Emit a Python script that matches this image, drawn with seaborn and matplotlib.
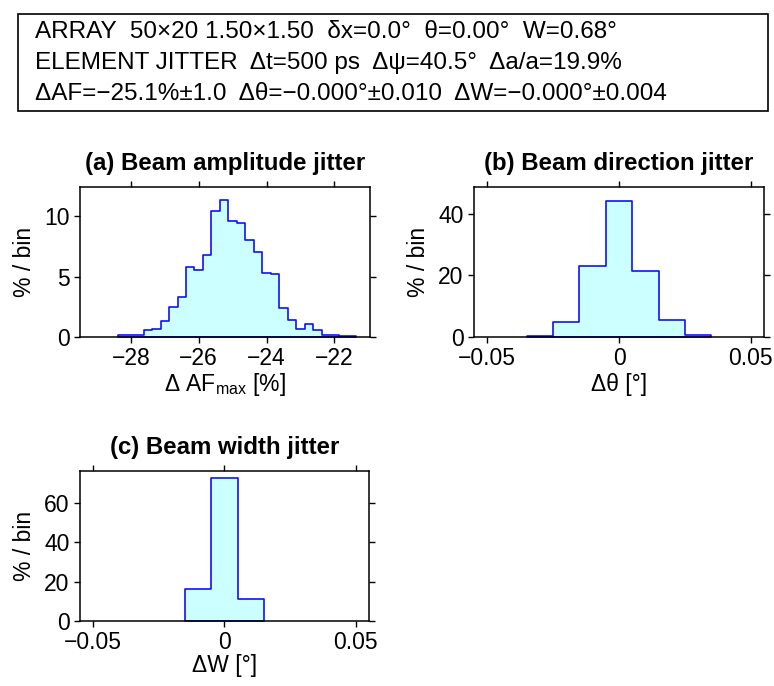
import numpy as np
import pandas as pd
import matplotlib
matplotlib.use("Agg")
import matplotlib.pyplot as plt
from matplotlib.patches import Rectangle
import seaborn as sns

# ---------------- data ----------------
amp_edges = [-28.375 + 0.25 * i for i in range(29)]
amp_pct = [0.2, 0.2, 0.2, 0.6, 0.7, 1.3, 2.5, 3.3, 5.8, 5.5, 6.8, 10.4, 11.3,
           9.6, 9.4, 8.0, 7.0, 5.3, 5.2, 2.4, 1.4, 0.7, 1.05, 0.6, 0.2, 0.15,
           0.1, 0.1]

dir_edges = [-0.035, -0.025, -0.015, -0.005, 0.005, 0.015, 0.025, 0.035]
dir_pct = [0.3, 4.7, 23.0, 44.2, 21.5, 5.5, 0.8]

wid_edges = [-0.015, -0.005, 0.005, 0.015]
wid_pct = [16.4, 72.6, 11.0]

header_lines = [
    "ARRAY  50×20 1.50×1.50  δx=0.0°  θ=0.00°  W=0.68°",
    "ELEMENT JITTER  Δt=500 ps  Δψ=40.5°  Δa/a=19.9%",
    "ΔAF=−25.1%±1.0  Δθ=−0.000°±0.010  ΔW=−0.000°±0.004",
]

titles = ["(a) Beam amplitude jitter", "(b) Beam direction jitter", "(c) Beam width jitter"]
xlabels = ["Δ AF$_{\\mathrm{max}}$ [%]", "Δθ [°]", "ΔW [°]"]
ylabel = "% / bin"
amp_ticks = [-28, -26, -24, -22]
amp_ticklabels = ["−28", "−26", "−24", "−22"]
ang_ticks = [-0.05, 0, 0.05]
ang_ticklabels = ["−0.05", "0", "0.05"]
amp_yticks = [0, 5, 10]
dir_yticks = [0, 20, 40]
wid_yticks = [0, 20, 40, 60]

# ---------------- style ----------------
sns.set_theme(style="ticks", rc={
    "text.color": "black", "axes.labelcolor": "black",
    "xtick.color": "black", "ytick.color": "black",
    "axes.edgecolor": "black",
})
plt.rcParams["font.family"] = ["Liberation Sans", "DejaVu Sans"]
plt.rcParams["mathtext.fontset"] = "custom"
plt.rcParams["mathtext.rm"] = "Liberation Sans"
plt.rcParams["mathtext.it"] = "Liberation Sans:italic"
plt.rcParams["mathtext.default"] = "regular"
plt.rcParams["axes.unicode_minus"] = True
plt.rcParams["font.size"] = 16.5

FACE = "#ccffff"
EDGE = "#1010ff"

fig = plt.figure(figsize=(7.74, 6.86), dpi=100)

W, H = 774, 686
def ax_at(x0, y0, x1, y1):
    return fig.add_axes([x0 / W, 1 - y1 / H, (x1 - x0) / W, (y1 - y0) / H])

ax_a = ax_at(80, 187, 370, 337)
ax_b = ax_at(474, 187, 764, 337)
ax_c = ax_at(80, 471, 369, 621)

def draw_hist(ax, edges, pct):
    centers = [(a + b) / 2 for a, b in zip(edges[:-1], edges[1:])]
    df = pd.DataFrame({"x": centers, "w": pct})
    sns.histplot(data=df, x="x", weights="w", bins=list(edges), element="step",
                 fill=True, facecolor=FACE, edgecolor=EDGE, alpha=1,
                 linewidth=1.2, ax=ax)

def style(ax, title, xlabel, labelpad):
    ax.set_title(title, fontweight="bold", fontsize=17.3, pad=12.5, color="black")
    ax.set_xlabel(xlabel, fontsize=16.5, labelpad=labelpad)
    ax.set_ylabel(ylabel, fontsize=16.5, labelpad=6)
    ax.tick_params(axis="both", which="both", direction="out", length=4.5,
                   width=1, color="black", labelcolor="black", labelsize=16.5,
                   pad=3, top=True, right=True, labeltop=False, labelright=False)
    for s in ax.spines.values():
        s.set_visible(True)
        s.set_linewidth(1.1)
        s.set_color("black")

draw_hist(ax_a, amp_edges, amp_pct)
ax_a.set_xlim(-29.5, -20.95)
ax_a.set_ylim(0, 12.4)
ax_a.set_xticks(amp_ticks)
ax_a.set_xticklabels(amp_ticklabels)
ax_a.set_yticks(amp_yticks)
style(ax_a, titles[0], xlabels[0], 0.5)

draw_hist(ax_b, dir_edges, dir_pct)
ax_b.set_xlim(-0.055, 0.055)
ax_b.set_ylim(0, 48.6)
ax_b.set_xticks(ang_ticks)
ax_b.set_xticklabels(ang_ticklabels)
ax_b.set_yticks(dir_yticks)
style(ax_b, titles[1], xlabels[1], 2)

draw_hist(ax_c, wid_edges, wid_pct)
ax_c.set_xlim(-0.055, 0.055)
ax_c.set_ylim(0, 76.3)
ax_c.set_xticks(ang_ticks)
ax_c.set_xticklabels(ang_ticklabels)
ax_c.set_yticks(wid_yticks)
style(ax_c, titles[2], xlabels[2], 0)

# header box
fig.patches.append(Rectangle((18 / W, 1 - 111 / H), 750 / W, 97 / H,
                             transform=fig.transFigure, fill=False,
                             edgecolor="black", linewidth=1.2))
for yb, line in zip([38, 69, 100], header_lines):
    fig.text(35 / W, 1 - yb / H, line, fontsize=17.5, va="baseline", ha="left",
             color="black", family=["Liberation Sans", "DejaVu Sans"])

fig.savefig("out.png", dpi=100)
